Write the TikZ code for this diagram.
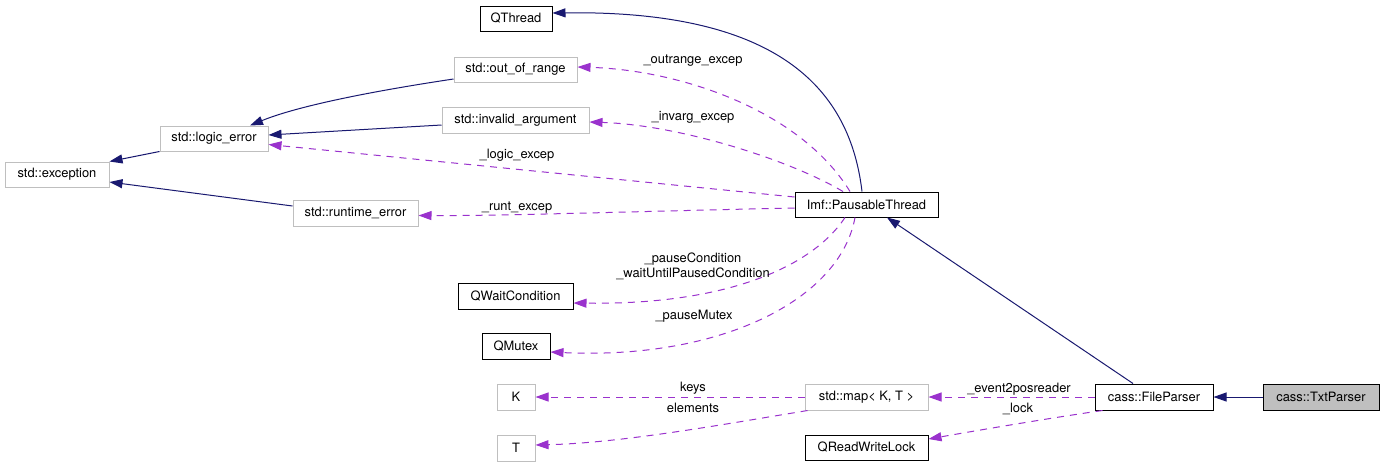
\documentclass[tikz,border=0pt]{standalone}
\usepackage{fontspec}
\setmainfont{TeX Gyre Heros}
\usetikzlibrary{arrows.meta}
\definecolor{navy}{HTML}{191970}
\definecolor{orchid}{HTML}{9A32CD}
\definecolor{lgray}{HTML}{BFBFBF}
\tikzset{
  box/.style={draw=black, line width=1pt, rectangle, inner sep=0pt, font=\fontsize{12.9}{15}\selectfont},
  gbox/.style={box, draw=lgray},
  inh/.style={draw=navy, line width=1pt, -{Triangle[length=13pt,width=9pt]}},
  use/.style={draw=orchid, line width=1pt, dash pattern=on 7pt off 6pt, -{Triangle[length=13pt,width=9pt]}},
  lbl/.style={inner sep=0pt, font=\fontsize{12.9}{15}\selectfont, align=center}
}
\begin{document}
\begin{tikzpicture}[x=1pt,y=-1pt]
\useasboundingbox[fill=white] (0,0) rectangle (1384,467);
% nodes
\node[gbox, minimum width=104pt, minimum height=25pt] (exc) at (57,174.5) {std::exception};
\node[gbox, minimum width=108pt, minimum height=25pt] (logic) at (214,138.5) {std::logic\_error};
\node[gbox, minimum width=125pt, minimum height=26pt] (rt) at (355.5,213) {std::runtime\_error};
\node[box, minimum width=72pt, minimum height=25pt] (qthread) at (516,18.5) {QThread};
\node[gbox, minimum width=123pt, minimum height=25pt] (oor) at (515.5,69.5) {std::out\_of\_range};
\node[gbox, minimum width=147pt, minimum height=26pt] (inv) at (515.5,120) {std::invalid\_argument};
\node[box, minimum width=143pt, minimum height=25pt] (pt) at (866.5,204.5) {Imf::PausableThread};
\node[box, minimum width=115pt, minimum height=26pt] (qwc) at (515.5,296) {QWaitCondition};
\node[box, minimum width=68pt, minimum height=26pt] (qmutex) at (516,346) {QMutex};
\node[gbox, minimum width=38pt, minimum height=26pt] (K) at (516,397) {K};
\node[gbox, minimum width=38pt, minimum height=26pt] (T) at (516,448) {T};
\node[gbox, minimum width=123pt, minimum height=26pt] (map) at (866.5,397) {std::map\textless{} K, T \textgreater};
\node[box, minimum width=123pt, minimum height=25pt] (qrwl) at (866.5,447.5) {QReadWriteLock};
\node[box, minimum width=118pt, minimum height=26pt] (fp) at (1154,397) {cass::FileParser};
\node[box, fill=lgray, minimum width=116pt, minimum height=26pt] (txt) at (1321,397) {cass::TxtParser};
% inheritance
\draw[inh] (logic.south west) -- (exc.north east);
\draw[inh] ([yshift=7pt]rt.west) -- ([yshift=-7.5pt]exc.east);
\draw[inh] ([yshift=-9.5pt]oor.west) .. controls (380,90) and (300,105) .. ([xshift=36pt]logic.north);
\draw[inh] ([yshift=-5pt]inv.west) -- ([yshift=3.5pt]logic.east);
\draw[inh] ([xshift=-4.5pt]pt.north) .. controls (850,90) and (780,10) .. ([yshift=5.5pt]qthread.east);
\draw[inh] ([xshift=-21pt]fp.north) -- ([xshift=20.5pt]pt.south);
\draw[inh] (txt.west) -- (fp.east);
% usage
\draw[use] ([xshift=-16.5pt]pt.north) .. controls (800,110) and (680,70) .. ([yshift=2.5pt]oor.east);
\draw[use] ([xshift=-23.5pt]pt.north) .. controls (790,160) and (680,125) .. ([yshift=-2pt]inv.east);
\draw[use] ([yshift=7.5pt]pt.west) -- ([yshift=-6pt]logic.east);
\draw[use] ([yshift=-3.5pt]pt.west) .. controls (650,211) and (500,216) .. ([yshift=-2.5pt]rt.east);
\draw[use] ([xshift=-21.5pt]pt.south) .. controls (810,270) and (720,305) .. ([yshift=-7pt]qwc.east);
\draw[use] ([xshift=-11.5pt]pt.south) .. controls (840,300) and (720,360) .. ([yshift=-6pt]qmutex.east);
\draw[use] (map.west) -- (K.east);
\draw[use] ([xshift=3pt]map.south west) .. controls (720,425) and (620,443) .. ([yshift=3pt]T.east);
\draw[use] (fp.west) -- (map.east);
\draw[use] ([xshift=8pt]fp.south west) .. controls (1050,418) and (980,430) .. ([yshift=8.5pt]qrwl.east);
% labels
\node[lbl] (l1) at (693,61) {\_outrange\_excep};
\node[lbl] (l2) at (693,117) {\_invarg\_excep};
\node[lbl] (l3) at (517,155) {\_logic\_excep};
\node[lbl] (l4) at (517,208) {\_runt\_excep};
\node[lbl] (l5) at (693,266.5) {\_pauseCondition\\\_waitUntilPausedCondition};
\node[lbl] (l6) at (694,316) {\_pauseMutex};
\node[lbl] (l7) at (693,388) {keys};
\node[lbl] (l8) at (693,408) {elements};
\node[lbl] (l9) at (1019,389) {\_event2posreader};
\node[lbl] (l10) at (1018,409) {\_lock};
\end{tikzpicture}
\end{document}
